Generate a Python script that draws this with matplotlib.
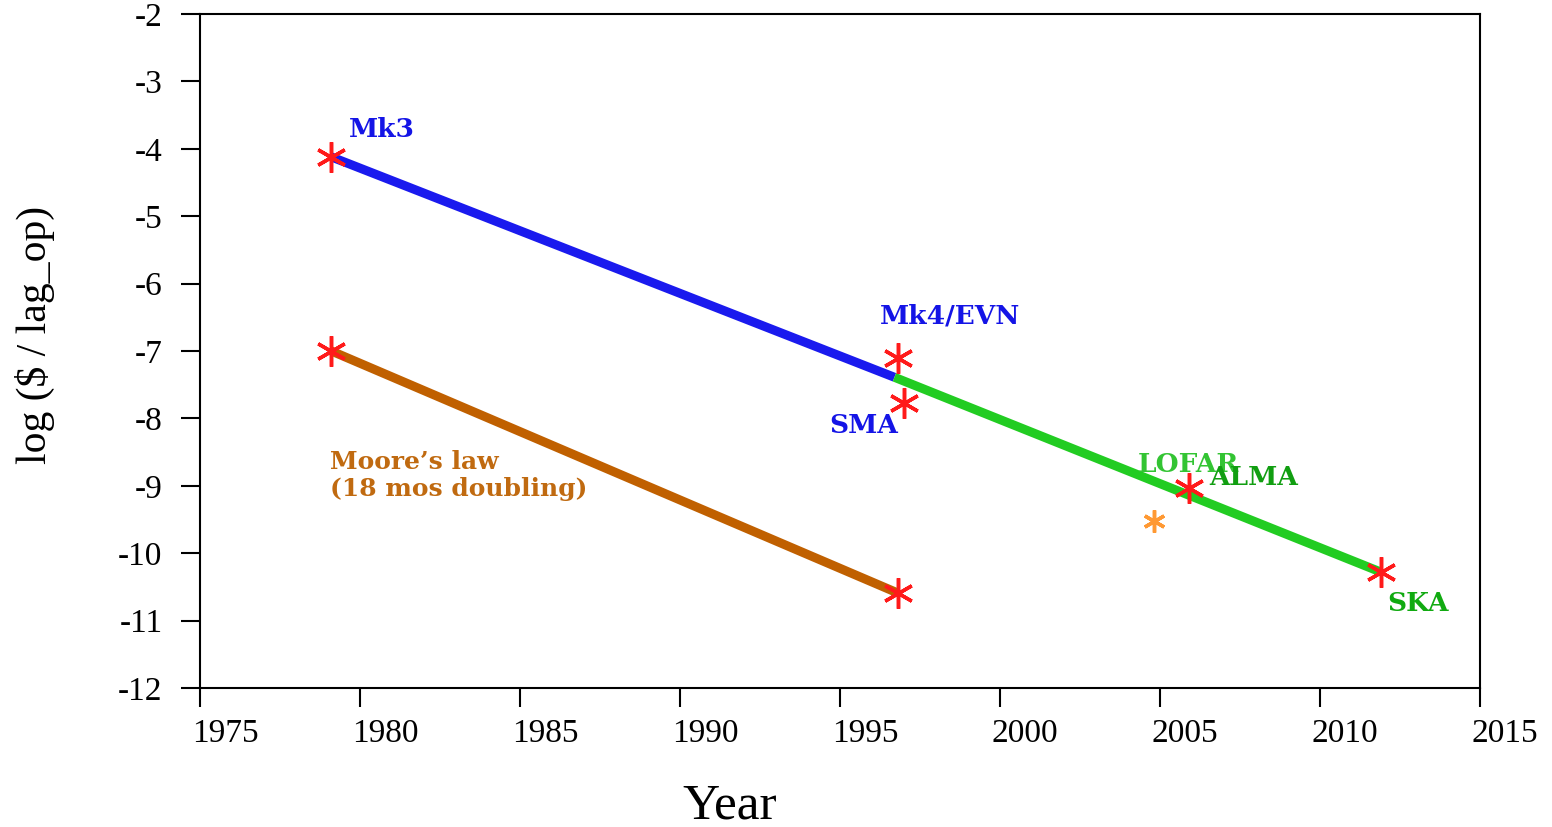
import numpy as np
import matplotlib.pyplot as plt
import matplotlib.transforms as mtransforms

# data
blueYears = [1979.1, 1996.7]
blueVals = [-4.12, -7.39]
greenYears = [1996.7, 2011.9]
greenVals = [-7.39, -10.28]
mooreYears = [1979.1, 1996.8]
mooreVals = [-7.0, -10.59]

starYears = [1979.1, 1996.8, 1997.0, 2005.9, 2011.9, 1979.1, 1996.8]
starVals = [-4.12, -7.1, -7.77, -9.03, -10.28, -7.0, -10.59]
orangeYears = [2004.8]
orangeVals = [-9.52]

labels = ["Mk3", "Mk4/EVN", "SMA", "LOFAR", "ALMA", "SKA", "Moore\u2019s law\n(18 mos doubling)"]
labelX = [1979.65, 1996.25, 1994.66, 2004.3, 2006.55, 2012.1, 1979.05]
labelY = [-3.72, -6.48, -8.10, -8.68, -8.87, -10.74, -8.85]
labelSizes = [19, 19, 19, 19, 19, 19, 18]
labelColors = ["#1414e6", "#1414e6", "#1414e6", "#33c433", "#119e11", "#11aa11", "#c06a10"]

xticks = np.arange(1975, 2016, 5)
yticks = np.arange(-12, -1, 1)

plt.rcParams['font.family'] = ['Liberation Serif', 'DejaVu Serif']
plt.rcParams['axes.unicode_minus'] = False

fig = plt.figure(figsize=(15.52, 8.27), dpi=100)
ax = fig.add_axes([0.1289, 0.1681, 0.8247, 0.815])

ax.plot(blueYears, blueVals, color="#1a1aee", lw=6.5, solid_capstyle='butt', zorder=2)
ax.plot(greenYears, greenVals, color="#22cc22", lw=6.5, solid_capstyle='butt', zorder=2)
ax.plot(mooreYears, mooreVals, color="#c06000", lw=6.5, solid_capstyle='butt', zorder=2)

ax.plot(starYears, starVals, ls='none', marker=(6, 2, 0), ms=22, mew=2.5, color="#ff1a1a", zorder=3)
ax.plot(orangeYears, orangeVals, ls='none', marker=(6, 2, 0), ms=16, mew=2.5, color="#ff9933", zorder=3)

for txt, x, y, fs, c in zip(labels, labelX, labelY, labelSizes, labelColors):
    ax.text(x, y, txt, color=c, fontsize=fs, fontweight='bold', va='center', ha='left',
            family='DejaVu Serif', linespacing=1.15, zorder=4)

ax.set_xlim(1975, 2015)
ax.set_ylim(-12, -2)
ax.set_xticks(xticks)
ax.set_yticks(yticks)
ax.tick_params(direction='out', length=14, width=1.5, labelsize=24)
ax.tick_params(axis='x', pad=8)
ax.tick_params(axis='y', pad=13)
for s in ax.spines.values():
    s.set_linewidth(1.5)

# x tick labels sit a bit right of their ticks in the original
shift = mtransforms.ScaledTranslation(0.25, 0, fig.dpi_scale_trans)
for lab in ax.get_xticklabels():
    lab.set_transform(lab.get_transform() + shift)

fig.text(730 / 1552, 1 - 806 / 827, "Year", fontsize=37, ha='center', va='center')
fig.text(35 / 1552, 1 - 335 / 827, "log ($ / lag_op)", fontsize=30, ha='center', va='center',
         rotation=90)

fig.savefig("out.png", dpi=100)
